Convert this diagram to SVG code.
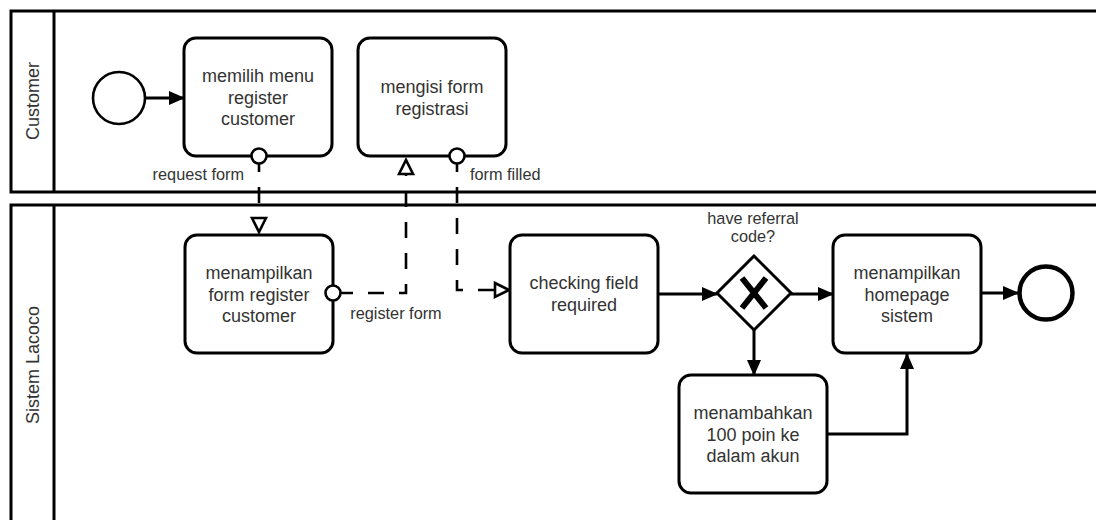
<svg xmlns="http://www.w3.org/2000/svg" width="1096" height="520" viewBox="0 0 1096 520">
  <style>
    .pool { fill: none; stroke: #000; stroke-width: 3; }
    .task { fill: #fff; stroke: #000; stroke-width: 3; }
    .txt { font-family: "Liberation Sans", Arial, sans-serif; font-size: 18px; fill: #333; text-anchor: middle; dominant-baseline: central; }
    .lbl { font-family: "Liberation Sans", Arial, sans-serif; font-size: 16.3px; fill: #333; dominant-baseline: central; }
    .seq { fill: none; stroke: #000; stroke-width: 3; }
    .msg { fill: none; stroke: #000; stroke-width: 2.6; stroke-dasharray: 16 15; }
    .port { fill: #fff; stroke: #000; stroke-width: 2.6; }
  </style>
  <defs>
    <!-- filled arrowhead for sequence flows -->
    <marker id="arrow" markerUnits="userSpaceOnUse" markerWidth="16" markerHeight="16" viewBox="0 0 16 16" refX="15" refY="8" orient="auto">
      <path d="M0,1 L16,8 L0,15 Z" fill="#000" stroke="none"/>
    </marker>
    <!-- open arrowhead for message flows -->
    <marker id="open" markerUnits="userSpaceOnUse" markerWidth="20" markerHeight="20" viewBox="-2 -2 20 20" refX="0" refY="8" orient="auto">
      <path d="M0,1 L14,8 L0,15 Z" fill="#fff" stroke="#000" stroke-width="2.6" stroke-dasharray="none"/>
    </marker>
  </defs>

  <rect width="1096" height="520" fill="#fff"/>

  <!-- pools -->
  <g id="pool-customer">
    <rect class="pool" x="11" y="11" width="1100" height="181"/>
    <line class="pool" x1="54" y1="11" x2="54" y2="192"/>
    <text class="txt" transform="translate(33,101) rotate(-90)">Customer</text>
  </g>
  <g id="pool-sistem">
    <rect class="pool" x="11" y="205" width="1100" height="322"/>
    <line class="pool" x1="54" y1="205" x2="54" y2="527"/>
    <text class="txt" transform="translate(33,365) rotate(-90)">Sistem Lacoco</text>
  </g>

  <!-- connectors -->
  <g id="connectors">
    <path class="seq" d="M146,98 L184,98" marker-end="url(#arrow)"/>
    <path class="seq" d="M658,294 L717,294" marker-end="url(#arrow)"/>
    <path class="seq" d="M791,294 L833,294" marker-end="url(#arrow)"/>
    <path class="seq" d="M754,330 L754,375" marker-end="url(#arrow)"/>
    <path class="seq" d="M827,434 L907,434 L907,354" marker-end="url(#arrow)"/>
    <path class="seq" d="M982,293 L1018,293" marker-end="url(#arrow)"/>
    <path class="msg" d="M259,156 L259,218" marker-end="url(#open)"/>
    <path class="msg" d="M333,293 L406,293 L406,174" stroke-dashoffset="-4" marker-end="url(#open)"/>
    <path class="msg" d="M457,156 L457,290 L495,290" marker-end="url(#open)"/>
  </g>

  <!-- events -->
  <g id="start">
    <circle cx="119" cy="98" r="26" fill="#fff" stroke="#000" stroke-width="2.6"/>
  </g>
  <g id="end">
    <circle cx="1046" cy="293" r="26.5" fill="#fff" stroke="#000" stroke-width="4.5"/>
  </g>

  <!-- tasks -->
  <g id="task-memilih">
    <rect class="task" x="184" y="38" width="148" height="118" rx="12"/>
    <text class="txt" x="258" y="76">memilih menu</text>
    <text class="txt" x="258" y="97.5">register</text>
    <text class="txt" x="258" y="119">customer</text>
    <circle class="port" cx="259" cy="156" r="7.5"/>
  </g>
  <g id="task-mengisi">
    <rect class="task" x="358" y="38" width="148" height="118" rx="12"/>
    <text class="txt" x="432" y="87">mengisi form</text>
    <text class="txt" x="432" y="108.5">registrasi</text>
    <circle class="port" cx="457" cy="156" r="7.5"/>
  </g>
  <g id="task-menampilkan-form">
    <rect class="task" x="185" y="235" width="148" height="118" rx="12"/>
    <text class="txt" x="259" y="273">menampilkan</text>
    <text class="txt" x="259" y="294.5">form register</text>
    <text class="txt" x="259" y="316">customer</text>
    <circle class="port" cx="333" cy="293" r="7.5"/>
  </g>
  <g id="task-checking">
    <rect class="task" x="510" y="235" width="148" height="118" rx="12"/>
    <text class="txt" x="584" y="283">checking field</text>
    <text class="txt" x="584" y="304.5">required</text>
  </g>
  <g id="gateway">
    <polygon points="754,256 791,293 754,330 717,293" fill="#fff" stroke="#000" stroke-width="3"/>
    <line x1="742" y1="278" x2="766" y2="308" stroke="#000" stroke-width="6"/>
    <line x1="766" y1="278" x2="742" y2="308" stroke="#000" stroke-width="6"/>
    <text class="lbl" x="753" y="218" text-anchor="middle">have referral</text>
    <text class="lbl" x="753" y="236" text-anchor="middle">code?</text>
  </g>
  <g id="task-homepage">
    <rect class="task" x="833" y="235" width="148" height="118" rx="12"/>
    <text class="txt" x="907" y="273">menampilkan</text>
    <text class="txt" x="907" y="294.5">homepage</text>
    <text class="txt" x="907" y="316">sistem</text>
  </g>
  <g id="task-poin">
    <rect class="task" x="679" y="375" width="148" height="118" rx="12"/>
    <text class="txt" x="753" y="413">menambahkan</text>
    <text class="txt" x="753" y="434.5">100 poin ke</text>
    <text class="txt" x="753" y="456">dalam akun</text>
  </g>

  <!-- message flow labels -->
  <g id="labels">
    <text class="lbl" x="244" y="174" text-anchor="end">request form</text>
    <text class="lbl" x="470" y="174">form filled</text>
    <text class="lbl" x="396" y="313" text-anchor="middle">register form</text>
  </g>
</svg>
